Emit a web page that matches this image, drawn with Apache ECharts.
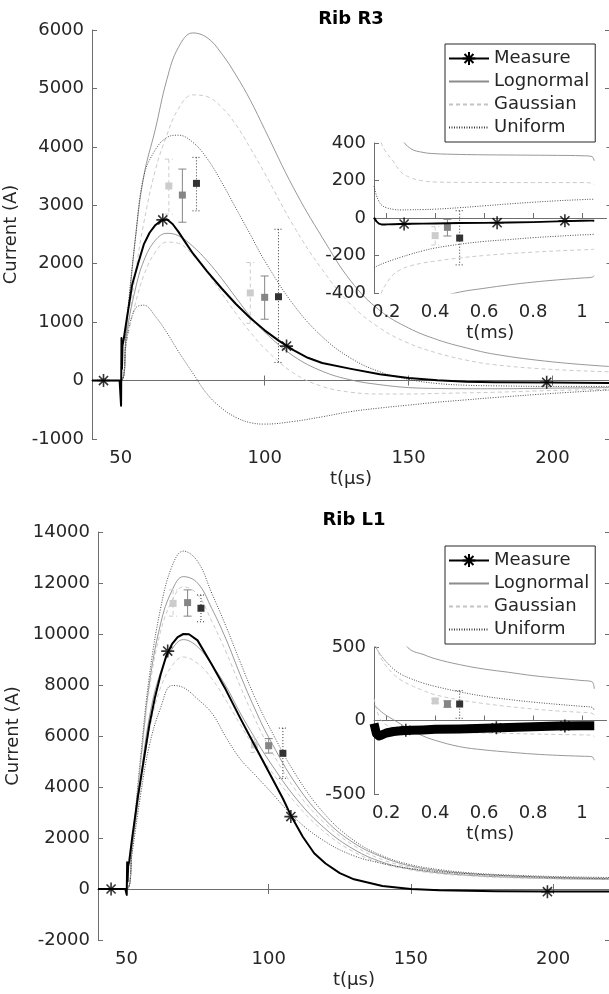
<!DOCTYPE html>
<html>
<head>
<meta charset="utf-8">
<script src="https://cdn.jsdelivr.net/npm/echarts@6/dist/echarts.min.js"></script>
<style>
  html, body { margin: 0; padding: 0; background: #fff; }
  #chart { width: 609px; height: 994px; }
</style>
</head>
<body>
<div id="chart"></div>
<script>
// ---- sample times ----
// main panels, band curves (µs)
const tBand = [40, 50, 52, 55, 58, 62, 66, 70, 75, 80, 85, 90, 95, 100, 110, 120, 130, 140, 150, 160, 170, 180, 200, 220];
// insets (ms)
const tInset = [0.15, 0.16, 0.17, 0.18, 0.2, 0.23, 0.26, 0.3, 0.35, 0.4, 0.5, 0.6, 0.7, 0.8, 0.9, 1.0, 1.04, 1.05];

const mainTicks = [50, 100, 150, 200];
const insetTicks = [0.2, 0.4, 0.6, 0.8, 1];

// ---- Rib R3 ----
const r3MeasT = [40, 49.6, 50, 50.1, 50.25, 50.4, 50.6, 51, 52, 54, 56, 58, 60, 62, 64, 66, 68, 70, 72, 75, 80, 85, 90, 95, 100, 105, 110, 115, 120, 130, 140, 150, 160, 170, 180, 200, 220];
const r3MeasI = [0, 0, 0, -430, 730, 200, 600, 700, 1030, 1650, 2000, 2330, 2530, 2660, 2740, 2760, 2680, 2550, 2400, 2180, 1870, 1580, 1310, 1070, 860, 680, 520, 390, 300, 200, 110, 45, 5, -20, -30, -35, -40];
const r3LogHi = [0, 0, 900, 2400, 3500, 4300, 5150, 5700, 5950, 5870, 5600, 5230, 4800, 4300, 3300, 2450, 1700, 1200, 900, 700, 560, 450, 320, 240];
const r3GauHi = [0, 0, 700, 1800, 2700, 3600, 4200, 4650, 4890, 4860, 4680, 4380, 3980, 3550, 2650, 1900, 1300, 900, 640, 470, 350, 270, 190, 150];
const r3UniHi = [0, 0, 1000, 2400, 3500, 3950, 4160, 4200, 4080, 3800, 3400, 2950, 2500, 2050, 1300, 750, 380, 150, 20, -50, -80, -90, -100, -100];
const r3LogLo = [0, 0, 800, 1550, 2050, 2400, 2520, 2480, 2300, 2050, 1750, 1420, 1100, 830, 420, 160, 10, -70, -120, -135, -140, -140, -130, -120];
const r3GauLo = [0, 0, 650, 1300, 1800, 2200, 2370, 2350, 2150, 1850, 1500, 1150, 830, 550, 130, -100, -200, -230, -230, -220, -210, -200, -170, -150];
const r3UniLo = [0, 0, 700, 1230, 1290, 1100, 820, 500, 130, -230, -470, -630, -720, -745, -700, -620, -530, -470, -420, -370, -330, -290, -220, -160];
const r3StarT = [44, 64.6, 107.6, 198];
const r3StarI = [0, 2750, 590, -30];
const r3SqT = [66.7, 71.4, 76.3, 95, 100, 104.8];
const r3SqI = [3330, 3175, 3375, 1500, 1425, 1435];
const r3SqLo = [2850, 2710, 2905, 980, 1050, 310];
const r3SqHi = [3790, 3620, 3820, 2020, 1790, 2590];
// R3 inset
const r3InMeas = [2, -18, -30, -34, -34, -33, -32, -31, -30, -29, -27, -26, -24, -22, -18, -15, -14, -14];
const r3InLogHi = [1400, 1200, 1050, 920, 760, 560, 430, 370, 350, 343, 339, 337, 336, 335, 334, 332, 328, 305];
const r3InGauHi = [700, 560, 470, 400, 350, 300, 245, 215, 198, 192, 190, 190, 189, 189, 189, 189, 186, 178];
const r3InUniHi = [170, 120, 90, 70, 55, 46, 43, 44, 45, 47, 55, 65, 75, 84, 92, 98, 100, 100];
const r3InUniLo = [-265, -258, -252, -246, -236, -222, -209, -193, -175, -160, -140, -125, -115, -105, -97, -90, -88, -86];
const r3InGauLo = [-700, -560, -460, -400, -350, -300, -275, -255, -240, -230, -213, -200, -190, -182, -175, -170, -168, -166];
const r3InLogLo = [-800, -760, -730, -700, -650, -590, -545, -500, -455, -430, -395, -375, -357, -342, -330, -320, -316, -308];
const r3InStarT = [0.273, 0.653, 0.93];
const r3InStarI = [-32, -25, -15];
const r3InSqT = [0.4, 0.45, 0.5];
const r3InSqI = [-94, -50, -107];
const r3InSqLo = [-144, -96, -250];
const r3InSqHi = [-46, -7, 39];

// ---- Rib L1 ----
const l1MeasT = [40, 49.6, 50, 50.1, 50.25, 50.4, 50.6, 51, 52, 54, 56, 58, 60, 62, 64, 66, 68, 70, 72, 75, 80, 85, 90, 95, 100, 105, 108, 112, 116, 120, 125, 130, 140, 150, 160, 170, 180, 200, 220];
const l1MeasI = [0, 0, 0, -230, 1050, 300, 900, 1100, 2000, 3600, 5000, 6400, 7500, 8400, 9150, 9600, 9880, 10000, 9990, 9750, 8800, 7800, 6700, 5650, 4600, 3550, 2840, 2050, 1400, 1000, 620, 380, 120, 0, -50, -70, -85, -100, -95];
const l1UniHi = [0, 0, 1800, 5200, 8300, 11000, 12650, 13250, 12850, 11600, 10300, 8900, 7550, 6400, 4400, 2900, 1900, 1300, 950, 760, 640, 570, 490, 450];
const l1LogHi = [0, 0, 1700, 5000, 8000, 10400, 11700, 12250, 12000, 11000, 9800, 8400, 7100, 5950, 4050, 2700, 1800, 1250, 900, 720, 610, 540, 460, 420];
const l1GauHi = [0, 0, 1700, 4900, 7800, 10100, 11300, 11850, 11550, 10500, 9300, 7950, 6700, 5600, 3800, 2550, 1700, 1150, 850, 680, 580, 520, 440, 400];
const l1LogLo = [0, 0, 1600, 4300, 6700, 8500, 9400, 9780, 9500, 8800, 7950, 6900, 5950, 5050, 3500, 2350, 1550, 1050, 780, 630, 540, 480, 410, 380];
const l1GauLo = [0, 0, 1500, 4000, 6200, 7900, 8750, 9100, 8850, 8250, 7400, 6450, 5550, 4750, 3300, 2200, 1450, 1000, 750, 600, 520, 460, 400, 370];
const l1UniLo = [0, 0, 1400, 3700, 5600, 7100, 7980, 7900, 7450, 6900, 5950, 5100, 4500, 3900, 2700, 1850, 1300, 1000, 800, 680, 600, 540, 450, 400];
const l1StarT = [44.6, 64.5, 107.8, 198];
const l1StarI = [0, 9330, 2840, -105];
const l1SqT = [66.4, 71.5, 76.2, 95, 100, 105];
const l1SqI = [11200, 11230, 11010, 5650, 5620, 5320];
const l1SqLo = [10700, 10700, 10480, 5350, 5330, 4340];
const l1SqHi = [11730, 11730, 11530, 5950, 5900, 6310];
// L1 inset
const l1InMeas = [-20, -90, -105, -100, -85, -75, -70, -67, -64, -60, -57, -53, -48, -43, -38, -35, -35, -35];
const l1InLogHi = [1200, 1050, 950, 870, 760, 640, 555, 480, 450, 420, 380, 350, 328, 305, 288, 272, 264, 215];
const l1InUniHi = [520, 490, 465, 440, 400, 350, 315, 285, 255, 232, 195, 165, 143, 125, 110, 96, 90, 70];
const l1InGauHi = [560, 500, 455, 420, 370, 315, 275, 240, 205, 175, 140, 115, 95, 78, 65, 55, 50, 35];
const l1InLogLo = [106, 90, 75, 60, 35, 5, -25, -65, -105, -135, -178, -200, -215, -228, -237, -243, -246, -270];
const l1InGauLo = [150, 80, 30, 0, -30, -50, -60, -65, -70, -75, -80, -85, -88, -92, -95, -98, -100, -110];
const l1InStarT = [0.28, 0.65, 0.93];
const l1InStarI = [-67, -50, -37];
const l1InSqT = [0.4, 0.45, 0.5];
const l1InSqI = [133, 112, 112];
const l1InSqLo = [118, 90, 15];
const l1InSqHi = [148, 134, 203];

// shade of each square: light, mid, dark
const sqShade = [0, 1, 2, 0, 1, 2];

// ---- styles ----
const FONT = 'DejaVu Sans';
const TXT = '#262626';
const AXC = '#6e6e6e';
const STAR = 'path://M0,-10L0,10M-10,0L10,0M-7,-7L7,7M-7,7L7,-7';
const STYLE = {
  Lognormal: { color: '#8c8c8c', type: 'solid', width: 0.9 },
  Gaussian: { color: '#c4c4c4', type: [4, 3], width: 0.9 },
  Uniform: { color: '#3a3a3a', type: [1, 1.5], width: 0.9 }
};
const SHADE = ['#cccccc', '#858585', '#333333'];
const SHADE_DASH = [[4, 3], null, [1, 2]];

const zip = (t, v) => t.map((x, i) => [x, v[i]]);

function band(name, t, v, ax, z) {
  return {
    name: name, type: 'line', data: zip(t, v),
    xAxisIndex: ax, yAxisIndex: ax,
    symbol: 'circle', showSymbol: false,
    smooth: 0.4,
    lineStyle: STYLE[name], itemStyle: { color: STYLE[name].color },
    z: z, silent: true
  };
}

function measure(t, v, ax, z, w) {
  return {
    name: 'Measure', type: 'line', data: zip(t, v),
    xAxisIndex: ax, yAxisIndex: ax,
    symbol: STAR, symbolSize: 13, showSymbol: false,
    lineStyle: { color: '#000', width: w, join: 'round' },
    itemStyle: { color: '#000', borderColor: '#000', borderWidth: 1.6 },
    z: z, silent: true
  };
}

function stars(t, v, ax, z) {
  return {
    name: 'stars', type: 'scatter', data: zip(t, v),
    xAxisIndex: ax, yAxisIndex: ax,
    symbol: STAR, symbolSize: 13,
    itemStyle: { color: '#000', borderColor: '#000', borderWidth: 1.6 },
    z: z, silent: true
  };
}

// squares with error bars, drawn through the axis scales
function errBars(t, v, lo, hi, ax, z) {
  return {
    name: 'err', type: 'custom', xAxisIndex: ax, yAxisIndex: ax, z: z, silent: true,
    data: t.map((x, i) => [x, v[i], lo[i], hi[i], sqShade[i]]),
    renderItem: function (params, api) {
      const x = api.value(0);
      const k = api.value(4);
      const top = api.coord([x, api.value(3)]);
      const bot = api.coord([x, api.value(2)]);
      const mid = api.coord([x, api.value(1)]);
      const ls = { stroke: SHADE[k], lineWidth: 1, lineDash: SHADE_DASH[k] };
      const cap = 4, s = 3.5;
      return {
        type: 'group',
        children: [
          { type: 'line', shape: { x1: top[0], y1: top[1], x2: bot[0], y2: bot[1] }, style: ls },
          { type: 'line', shape: { x1: top[0] - cap, y1: top[1], x2: top[0] + cap, y2: top[1] }, style: ls },
          { type: 'line', shape: { x1: bot[0] - cap, y1: bot[1], x2: bot[0] + cap, y2: bot[1] }, style: ls },
          { type: 'rect', shape: { x: mid[0] - s, y: mid[1] - s, width: 2 * s, height: 2 * s }, style: { fill: SHADE[k] } }
        ]
      };
    }
  };
}

const LABEL = { color: TXT, fontSize: 18, fontFamily: FONT };
const plain = v => String(v);
const axLine = { show: true, lineStyle: { color: AXC, width: 1 } };
function tick(custom) {
  const o = { show: true, inside: true, length: 5, lineStyle: { color: AXC } };
  if (custom) o.customValues = custom;
  return o;
}

function xMain(grid, pos) {
  const bottom = pos === 'bottom';
  return {
    gridIndex: grid, type: 'value', position: pos, min: 40, max: 220,
    axisLine: axLine, axisTick: tick(mainTicks),
    axisLabel: bottom ? Object.assign({ margin: 10, customValues: mainTicks, formatter: plain }, LABEL) : { show: false },
    splitLine: { show: false },
    name: bottom ? 't(\u03bcs)' : '', nameLocation: 'middle', nameGap: 31, nameTextStyle: LABEL
  };
}
function xInset(grid) {
  return {
    gridIndex: grid, type: 'value', min: 0.15, max: 1.1, z: 4,
    axisLine: axLine, axisTick: tick(insetTicks),
    axisLabel: Object.assign({ margin: 10, customValues: insetTicks, formatter: plain }, LABEL),
    splitLine: { show: false },
    name: 't(ms)', nameLocation: 'middle', nameGap: 31, nameTextStyle: LABEL
  };
}
function yAx(grid, min, max, step, pos, gap, z) {
  const left = pos === 'left';
  return {
    gridIndex: grid, type: 'value', position: pos, min: min, max: max, interval: step, z: z || 0,
    axisLine: axLine, axisTick: tick(),
    axisLabel: left ? Object.assign({ margin: 8, formatter: plain }, LABEL) : { show: false },
    splitLine: { show: false },
    name: gap ? 'Current (A)' : '', nameLocation: 'middle', nameGap: gap || 0, nameTextStyle: LABEL
  };
}

// band entries show only their line in the legend (symbol hidden)
const hideSym = { opacity: 0 };
function legendAt(top) {
  return {
    left: 445, top: top, orient: 'vertical', z: 10,
    data: [
      { name: 'Measure' },
      { name: 'Lognormal', itemStyle: hideSym },
      { name: 'Gaussian', itemStyle: hideSym },
      { name: 'Uniform', itemStyle: hideSym }
    ],
    itemWidth: 40, itemHeight: 16, itemGap: 0,
    padding: [3, 6, 3, 3],
    backgroundColor: '#fff', borderColor: '#262626', borderWidth: 1, borderRadius: 0,
    selectedMode: false,
    textStyle: { color: TXT, fontSize: 18, fontFamily: FONT, lineHeight: 23 }
  };
}

const series = [
  // Rib R3 main
  band('Lognormal', tBand, r3LogHi, 0, 2),
  band('Gaussian', tBand, r3GauHi, 0, 2),
  band('Uniform', tBand, r3UniHi, 0, 2),
  band('Lognormal', tBand, r3LogLo, 0, 2),
  band('Gaussian', tBand, r3GauLo, 0, 2),
  band('Uniform', tBand, r3UniLo, 0, 2),
  errBars(r3SqT, r3SqI, r3SqLo, r3SqHi, 0, 3),
  measure(r3MeasT, r3MeasI, 0, 3, 2),
  stars(r3StarT, r3StarI, 0, 4),
  // Rib R3 inset
  band('Lognormal', tInset, r3InLogHi, 2, 5),
  band('Gaussian', tInset, r3InGauHi, 2, 5),
  band('Uniform', tInset, r3InUniHi, 2, 5),
  band('Uniform', tInset, r3InUniLo, 2, 5),
  band('Gaussian', tInset, r3InGauLo, 2, 5),
  band('Lognormal', tInset, r3InLogLo, 2, 5),
  errBars(r3InSqT, r3InSqI, r3InSqLo, r3InSqHi, 2, 6),
  measure(tInset, r3InMeas, 2, 6, 2),
  stars(r3InStarT, r3InStarI, 2, 7),
  // Rib L1 main
  band('Uniform', tBand, l1UniHi, 3, 2),
  band('Lognormal', tBand, l1LogHi, 3, 2),
  band('Gaussian', tBand, l1GauHi, 3, 2),
  band('Lognormal', tBand, l1LogLo, 3, 2),
  band('Gaussian', tBand, l1GauLo, 3, 2),
  band('Uniform', tBand, l1UniLo, 3, 2),
  errBars(l1SqT, l1SqI, l1SqLo, l1SqHi, 3, 3),
  measure(l1MeasT, l1MeasI, 3, 3, 2),
  stars(l1StarT, l1StarI, 3, 4),
  // Rib L1 inset
  band('Lognormal', tInset, l1InLogHi, 5, 5),
  band('Uniform', tInset, l1InUniHi, 5, 5),
  band('Gaussian', tInset, l1InGauHi, 5, 5),
  band('Lognormal', tInset, l1InLogLo, 5, 5),
  band('Gaussian', tInset, l1InGauLo, 5, 5),
  errBars(l1InSqT, l1InSqI, l1InSqLo, l1InSqHi, 5, 6),
  measure(tInset, l1InMeas, 5, 6, 9),
  stars(l1InStarT, l1InStarI, 5, 7)
];

const chart = echarts.init(document.getElementById('chart'));
chart.setOption({
  animation: false,
  backgroundColor: '#fff',
  textStyle: { fontFamily: FONT },
  graphic: [
    { type: 'text', x: 351, y: 19, style: { text: 'Rib R3', fontSize: 18, fontWeight: 'bold', fontFamily: FONT, fill: '#000', align: 'center', verticalAlign: 'middle' } },
    { type: 'text', x: 354, y: 520, style: { text: 'Rib L1', fontSize: 18, fontWeight: 'bold', fontFamily: FONT, fill: '#000', align: 'center', verticalAlign: 'middle' } }
  ],
  legend: [legendAt(44), legendAt(546)],
  grid: [
    { left: 92, top: 30, width: 518, height: 409, outerBoundsMode: 'none' },
    { left: 374, top: 143, width: 232.5, height: 150, show: true, backgroundColor: '#fff', borderWidth: 0, z: 3, outerBoundsMode: 'none' },
    { left: 98, top: 532, width: 512, height: 408, outerBoundsMode: 'none' },
    { left: 374, top: 647, width: 232.5, height: 147, show: true, backgroundColor: '#fff', borderWidth: 0, z: 3, outerBoundsMode: 'none' }
  ],
  xAxis: [xMain(0, 'bottom'), xMain(0, 'top'), xInset(1), xMain(2, 'bottom'), xMain(2, 'top'), xInset(3)],
  yAxis: [
    yAx(0, -1000, 6000, 1000, 'left', 46),
    yAx(0, -1000, 6000, 1000, 'right'),
    yAx(1, -400, 400, 200, 'left', 0, 4),
    yAx(2, -2000, 14000, 2000, 'left', 52),
    yAx(2, -2000, 14000, 2000, 'right'),
    yAx(3, -500, 500, 500, 'left', 0, 4)
  ],
  series: series
});
</script>
</body>
</html>
